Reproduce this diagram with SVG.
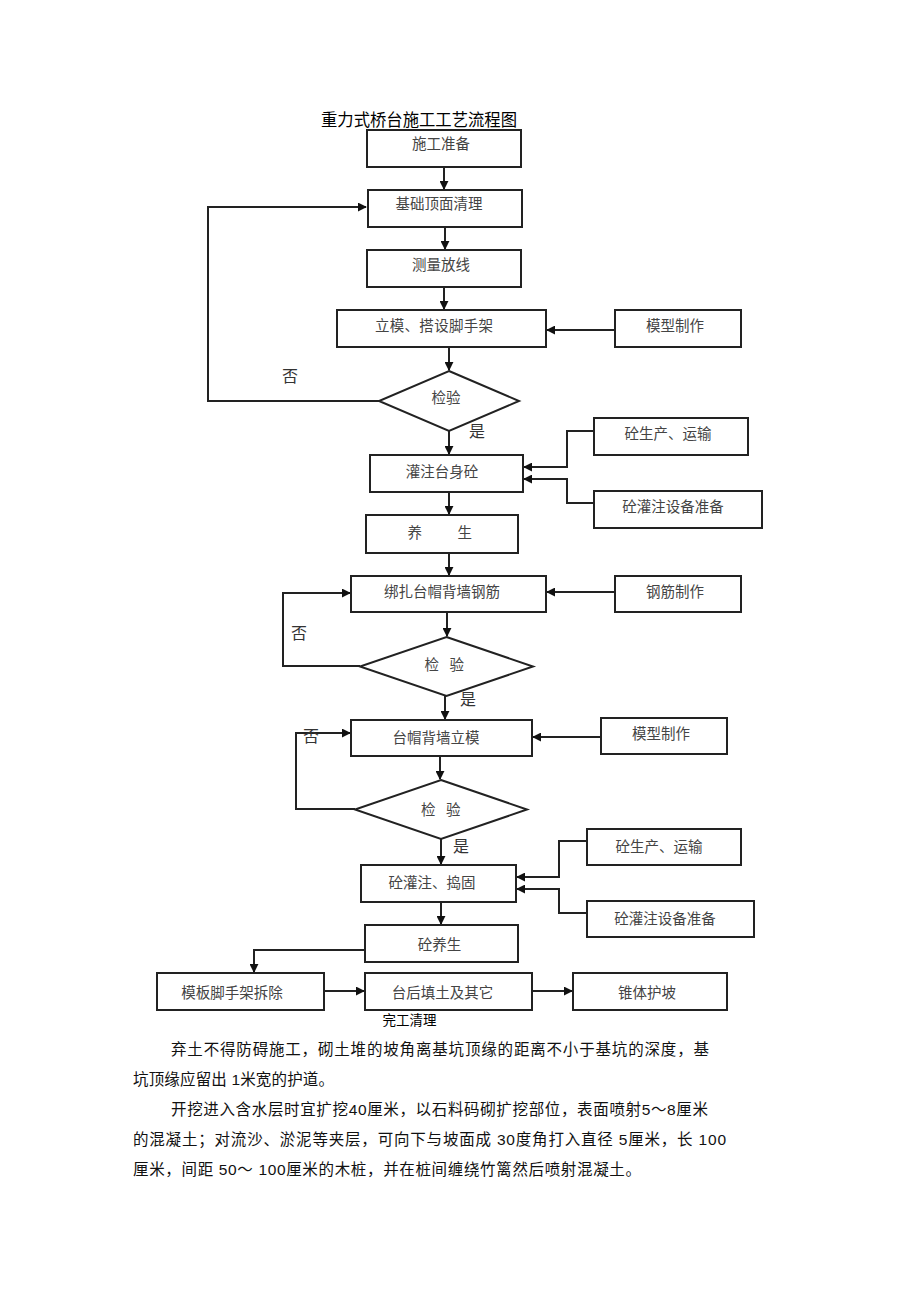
<svg xmlns="http://www.w3.org/2000/svg" width="920" height="1303" viewBox="0 0 920 1303">
<defs>
<style>
.box{fill:#fff;stroke:#222;stroke-width:2}
.dia{fill:#fff;stroke:#222;stroke-width:2}
.lbl{font-family:"Noto Sans CJK SC","Noto Sans",sans-serif;font-size:14.5px;fill:#444;text-anchor:middle}
.yn{font-family:"Noto Sans CJK SC","Noto Sans",sans-serif;font-size:16px;fill:#333}
.title{font-family:"Noto Sans CJK SC","Liberation Sans",sans-serif;font-size:17.5px;fill:#000}
.note{font-family:"Noto Sans CJK SC","Liberation Sans",sans-serif;font-size:13.5px;fill:#000}
.para{font-family:"Liberation Sans","Noto Sans CJK SC",sans-serif;font-size:15.5px;fill:#111}
.con{fill:none;stroke:#222;stroke-width:2}
</style>
<marker id="ah" viewBox="0 0 10 10" refX="9" refY="5" markerWidth="9" markerHeight="9" markerUnits="userSpaceOnUse" orient="auto">
<path d="M0,0 L10,5 L0,10 z" fill="#111"/>
</marker>
</defs>
<rect width="920" height="1303" fill="#fff"/>
<text class="title" x="321" y="126" textLength="196" lengthAdjust="spacingAndGlyphs">重力式桥台施工工艺流程图</text>

<g id="connectors">
<line class="con" x1="444" y1="167" x2="444" y2="189" marker-end="url(#ah)"/>
<line class="con" x1="445" y1="227" x2="445" y2="249" marker-end="url(#ah)"/>
<line class="con" x1="444" y1="287" x2="444" y2="309" marker-end="url(#ah)"/>
<line class="con" x1="615" y1="330" x2="547" y2="330" marker-end="url(#ah)"/>
<line class="con" x1="449" y1="347" x2="449" y2="370" marker-end="url(#ah)"/>
<polyline class="con" points="379,401 208,401 208,207 366,207" marker-end="url(#ah)"/>
<line class="con" x1="449" y1="431" x2="449" y2="454" marker-end="url(#ah)"/>
<polyline class="con" points="594,431 567,431 567,467 524,467" marker-end="url(#ah)"/>
<polyline class="con" points="594,503 567,503 567,479 524,479" marker-end="url(#ah)"/>
<line class="con" x1="449" y1="492" x2="449" y2="514" marker-end="url(#ah)"/>
<line class="con" x1="449" y1="553" x2="449" y2="575" marker-end="url(#ah)"/>
<line class="con" x1="615" y1="592" x2="547" y2="592" marker-end="url(#ah)"/>
<line class="con" x1="447" y1="612" x2="447" y2="636" marker-end="url(#ah)"/>
<polyline class="con" points="360,666 283,666 283,593 350,593" marker-end="url(#ah)"/>
<line class="con" x1="445" y1="696" x2="445" y2="719" marker-end="url(#ah)"/>
<line class="con" x1="601" y1="737" x2="533" y2="737" marker-end="url(#ah)"/>
<line class="con" x1="440" y1="756" x2="440" y2="779" marker-end="url(#ah)"/>
<polyline class="con" points="355,809 296,809 296,733 350,733" marker-end="url(#ah)"/>
<line class="con" x1="441" y1="839" x2="441" y2="864" marker-end="url(#ah)"/>
<polyline class="con" points="587,841 559,841 559,877 517,877" marker-end="url(#ah)"/>
<polyline class="con" points="587,913 559,913 559,889 517,889" marker-end="url(#ah)"/>
<line class="con" x1="441" y1="902" x2="441" y2="924" marker-end="url(#ah)"/>
<polyline class="con" points="365,950 254,950 254,972" marker-end="url(#ah)"/>
<line class="con" x1="324" y1="991" x2="364" y2="991" marker-end="url(#ah)"/>
<line class="con" x1="532" y1="991" x2="572" y2="991" marker-end="url(#ah)"/>
</g>

<g id="n1"><rect class="box" x="367" y="130" width="154" height="37"/><text class="lbl" x="441" y="149">施工准备</text></g>
<g id="n2"><rect class="box" x="368" y="190" width="154" height="37"/><text class="lbl" x="439" y="209">基础顶面清理</text></g>
<g id="n3"><rect class="box" x="367" y="250" width="154" height="37"/><text class="lbl" x="441" y="270">测量放线</text></g>
<g id="n4"><rect class="box" x="337" y="310" width="209" height="37"/><text class="lbl" x="434" y="331" textLength="118" lengthAdjust="spacing">立模、搭设脚手架</text></g>
<g id="n5"><rect class="box" x="615" y="310" width="126" height="37"/><text class="lbl" x="675" y="331">模型制作</text></g>
<g id="d1"><polygon class="dia" points="449,371 519,401 449,431 379,401"/><text class="lbl" x="446" y="403">检验</text></g>
<g id="n6"><rect class="box" x="370" y="455" width="153" height="37"/><text class="lbl" x="442" y="477">灌注台身砼</text></g>
<g id="n7"><rect class="box" x="594" y="418" width="154" height="37"/><text class="lbl" x="668" y="439">砼生产、运输</text></g>
<g id="n8"><rect class="box" x="594" y="491" width="168" height="37"/><text class="lbl" x="673" y="512">砼灌注设备准备</text></g>
<g id="n9"><rect class="box" x="366" y="515" width="152" height="38"/><text class="lbl" x="407.5 457.5" y="538" style="text-anchor:start">养生</text></g>
<g id="n10"><rect class="box" x="351" y="576" width="195" height="36"/><text class="lbl" x="442" y="597">绑扎台帽背墙钢筋</text></g>
<g id="n11"><rect class="box" x="615" y="576" width="126" height="36"/><text class="lbl" x="675" y="597">钢筋制作</text></g>
<g id="d2"><polygon class="dia" points="446.5,637 533,666.5 446.5,696 360,666.5"/><text class="lbl" x="424.5 449.5" y="670" style="text-anchor:start">检验</text></g>
<g id="n12"><rect class="box" x="351" y="720" width="181" height="36"/><text class="lbl" x="436" y="743">台帽背墙立模</text></g>
<g id="n13"><rect class="box" x="601" y="718" width="126" height="36"/><text class="lbl" x="661" y="739">模型制作</text></g>
<g id="d3"><polygon class="dia" points="441,780 527,809.5 441,839 355,809.5"/><text class="lbl" x="421 446" y="815" style="text-anchor:start">检验</text></g>
<g id="n14"><rect class="box" x="361" y="865" width="155" height="37"/><text class="lbl" x="432" y="888">砼灌注、捣固</text></g>
<g id="n15"><rect class="box" x="587" y="829" width="154" height="36"/><text class="lbl" x="659" y="852">砼生产、运输</text></g>
<g id="n16"><rect class="box" x="587" y="901" width="167" height="36"/><text class="lbl" x="665" y="924">砼灌注设备准备</text></g>
<g id="n17"><rect class="box" x="365" y="925" width="153" height="37"/><text class="lbl" x="439.5" y="950">砼养生</text></g>
<g id="n18"><rect class="box" x="157" y="973" width="167" height="37"/><text class="lbl" x="232" y="998">模板脚手架拆除</text></g>
<g id="n19"><rect class="box" x="365" y="973" width="167" height="37"/><text class="lbl" x="442.5" y="998">台后填土及其它</text></g>
<g id="n20"><rect class="box" x="573" y="973" width="154" height="37"/><text class="lbl" x="647" y="998">锥体护坡</text></g>

<g id="labels">
<text class="yn" x="282" y="382">否</text>
<text class="yn" x="469" y="437">是</text>
<text class="yn" x="291" y="639">否</text>
<text class="yn" x="460" y="705">是</text>
<text class="yn" x="303" y="742">否</text>
<text class="yn" x="453" y="852">是</text>
<text class="note" x="382.5" y="1025">完工清理</text>
</g>

<g id="paragraph">
<text class="para" x="171" y="1055" textLength="538" lengthAdjust="spacing">弃土不得防碍施工，砌土堆的坡角离基坑顶缘的距离不小于基坑的深度，基</text>
<text class="para" x="133" y="1085" textLength="201" lengthAdjust="spacing">坑顶缘应留出 1米宽的护道。</text>
<text class="para" x="171" y="1115" textLength="537" lengthAdjust="spacing">开挖进入含水层时宜扩挖40厘米，以石料码砌扩挖部位，表面喷射5～8厘米</text>
<text class="para" x="133" y="1145" textLength="593" lengthAdjust="spacing">的混凝土；对流沙、淤泥等夹层，可向下与坡面成 30度角打入直径 5厘米，长 100</text>
<text class="para" x="133" y="1175" textLength="508" lengthAdjust="spacing">厘米，间距 50～ 100厘米的木桩，并在桩间缠绕竹篱然后喷射混凝土。</text>
</g>
</svg>
